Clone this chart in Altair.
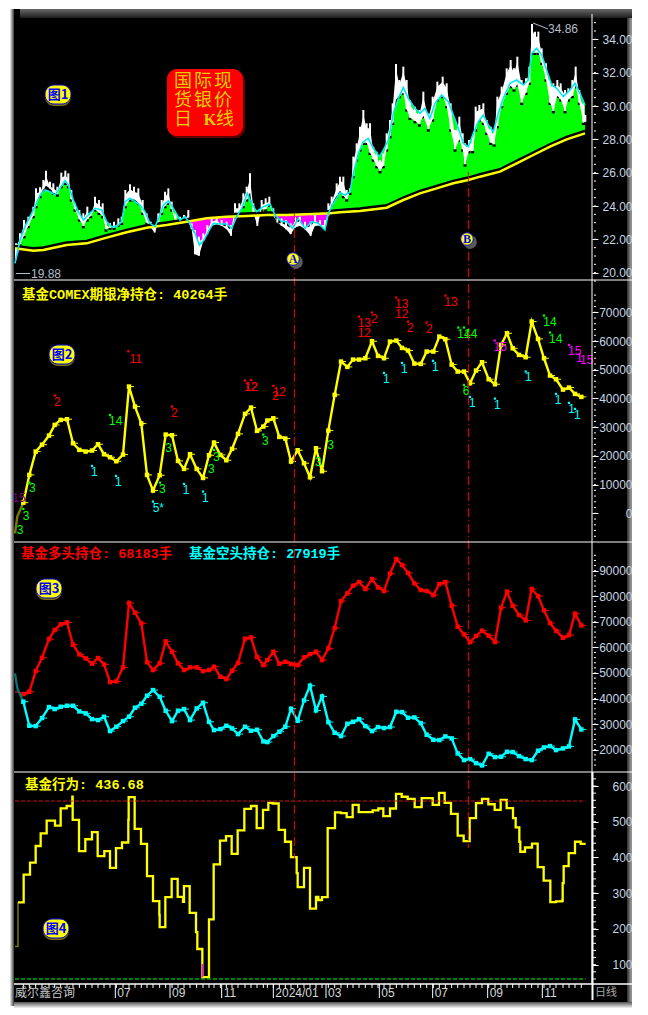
import altair as alt
import numpy as np
import pandas as pd

# x unit: one third of a screen pixel of the original terminal window
x_dom = [24, 1896]

bar_x = [48,60,72,85,100,108,120,130,138,150,160,172,184,196,205,214,225,238,250,262,272,285,297,308,318,330,342,355,365,376,390,402,415,428,440,452,464,475,485,495,505,515,527,540,552,565,575,585,597,610,622,635,650,665,680,693,705,718,730,740,750,760,772,785,797,808,820,832,845,858,872,885,900,915,932,945,960,975,985,995,1010,1020,1030,1040,1050,1060,1070,1080,1090,1100,1110,1120,1130,1140,1150,1160,1170,1178,1188,1198,1210,1220,1230,1245,1258,1270,1285,1298,1312,1328,1340,1352,1365,1378,1388,1395,1407,1418,1427,1438,1450,1460,1472,1482,1492,1505,1520,1532,1542,1552,1565,1578,1588,1596,1605,1615,1625,1638,1650,1660,1672,1682,1695,1705,1717,1727,1738,1750,1756]
bar_hi = [21.76,22.36,23.16,23.36,23.96,25.06,25.12,25.56,26.12,25.46,25.36,25.16,26.0,26.12,25.96,24.96,24.16,23.76,23.56,23.96,23.66,24.56,24.36,24.16,23.16,22.96,23.06,23.26,23.36,24.96,25.3,25.16,25.06,24.36,23.56,23.06,22.96,23.56,24.36,24.86,25.06,24.26,23.56,23.36,23.46,23.76,22.96,22.56,22.16,22.36,22.86,23.36,23.46,23.16,23.06,22.86,24.16,24.16,24.76,25.16,25.96,24.16,23.56,24.36,24.46,24.56,23.86,23.26,23.26,23.16,22.96,23.36,23.36,23.06,23.06,23.46,23.16,23.16,24.16,24.56,25.36,25.76,25.76,24.96,25.06,26.96,27.76,28.76,29.76,28.96,28.96,27.56,27.26,26.76,27.16,28.36,29.16,30.16,32.52,31.56,32.36,31.56,30.36,29.96,29.76,30.86,29.56,30.56,31.46,31.76,31.36,30.16,28.56,29.36,28.36,27.76,27.96,28.16,29.96,30.06,30.16,29.16,28.76,28.56,30.56,31.16,32.26,32.76,32.26,32.96,31.56,31.66,32.36,34.92,34.46,34.46,33.46,32.56,31.56,31.36,31.56,31.36,30.96,31.06,31.56,32.36,30.96,30.16,29.46]
bar_lo = [20.56,21.46,21.96,22.56,23.16,23.76,24.36,24.76,24.96,24.8,24.56,24.46,24.96,25.16,24.96,24.16,23.56,22.96,22.56,22.96,23.16,23.56,23.36,23.16,22.36,22.46,22.46,22.66,22.76,23.76,24.16,24.16,23.96,23.36,22.76,22.46,22.16,22.76,23.36,23.76,23.96,23.56,22.76,22.76,22.96,22.76,22.36,20.86,20.76,21.66,22.06,22.56,22.66,22.56,22.36,21.96,23.16,23.36,23.76,24.16,24.56,23.36,22.56,23.56,23.56,23.86,23.16,22.76,22.56,22.36,22.06,22.46,22.56,22.36,21.96,22.56,22.56,22.36,23.16,23.86,24.36,24.66,24.36,24.16,24.56,25.56,26.56,27.16,27.56,27.56,26.96,26.56,26.16,25.86,26.16,27.16,27.96,28.76,30.16,30.36,30.56,29.56,29.06,28.86,28.66,29.16,28.36,28.96,30.16,30.36,29.76,28.36,27.16,27.76,27.16,26.26,27.06,27.06,28.36,28.96,28.76,28.16,27.56,27.46,28.56,29.76,30.56,30.96,30.76,31.06,29.96,30.56,31.16,32.96,32.96,32.96,32.36,31.36,29.96,29.46,30.36,30.16,29.46,30.16,30.36,30.96,29.96,28.76,28.8]

ma_x = [45,60,75,90,105,120,135,150,165,180,195,205,220,235,250,265,285,305,320,335,350,365,375,390,405,420,435,450,465,478,490,505,520,540,555,570,585,598,612,625,640,660,680,695,710,725,742,755,770,790,810,825,845,860,878,895,915,935,955,975,985,1000,1020,1035,1050,1060,1075,1090,1105,1120,1138,1150,1165,1180,1195,1210,1225,1245,1260,1275,1290,1305,1325,1345,1360,1375,1390,1405,1420,1435,1450,1465,1480,1495,1510,1530,1550,1570,1585,1595,1610,1625,1640,1655,1670,1690,1710,1725,1740,1755]
ma_v = [20.56,21.96,22.76,23.36,23.96,24.66,24.96,24.86,24.66,25.06,25.52,25.26,24.36,23.66,23.16,23.46,23.86,23.76,23.06,22.76,22.76,23.06,24.26,24.46,24.26,24.06,23.66,22.96,22.76,23.36,24.06,24.3,23.86,23.16,23.36,22.96,22.36,21.66,21.96,22.46,22.96,22.92,22.92,22.66,23.36,23.86,24.76,24.16,23.66,23.96,24.12,23.46,23.06,23.06,22.66,23.26,22.66,23.06,22.96,22.56,23.56,24.16,24.8,24.66,24.86,25.96,27.16,27.86,28.06,27.46,26.96,27.36,27.96,29.56,30.46,31.12,30.46,29.86,29.56,29.86,29.26,30.16,30.66,30.26,29.46,28.66,27.76,27.56,28.36,29.06,29.46,28.86,28.46,29.56,30.46,31.36,31.56,31.26,31.56,33.16,33.46,33.06,32.16,31.26,31.06,30.56,30.96,31.36,30.76,30.06]

long_x = [45,100,130,200,260,320,380,440,500,560,620,680,740,800,860,940,990,1020,1080,1160,1210,1260,1310,1360,1405,1440,1500,1550,1600,1650,1700,1755]
long_v = [21.46,21.32,21.36,21.66,21.76,22.1,22.42,22.7,22.86,23.06,23.26,23.36,23.4,23.46,23.46,23.52,23.56,23.62,23.7,23.9,24.36,24.76,25.06,25.36,25.56,25.76,26.06,26.56,27.06,27.56,28.0,28.36]

wk_x = [70,88,107,126,147,164,182,201,219,238,257,276,294,312,330,349,369,387,405,424,441,459,479,497,516,534,552,570,590,609,627,642,661,679,696,714,735,753,771,790,802,820,838,856,873,893,912,930,948,966,985,1004,1023,1042,1059,1077,1096,1116,1134,1152,1170,1189,1206,1224,1243,1262,1280,1300,1318,1336,1355,1373,1392,1410,1428,1446,1466,1485,1503,1521,1538,1557,1577,1595,1614,1632,1650,1668,1689,1707,1725,1744]
net_v = [3700,13370,21500,23900,27070,30790,32530,32760,24400,22080,21500,21850,24050,20570,19530,18130,20450,44140,37170,31250,13370,7920,13250,27420,27190,18250,15460,20570,15460,12330,20220,24630,20340,18480,22430,27650,34620,36820,28700,30200,32300,33100,26600,26030,18020,21960,17440,12560,22660,14650,28810,41240,52840,50990,53540,53540,54000,59930,54820,54000,59810,60160,57600,56680,52150,52030,56330,56330,61550,60620,51800,49360,49360,45300,49710,52610,46690,44950,58650,62710,57490,55170,54360,66780,60740,54000,47970,46690,43090,43790,41590,40540]
long_pos = [41750,42670,50750,55970,63270,66790,69010,69790,61050,57270,55710,53620,55840,53360,46450,46710,52190,77350,73570,69400,54270,51140,53750,62360,58320,53750,51140,52190,52190,50750,51140,52450,48540,47620,50880,53880,63400,63920,56230,53100,55060,58320,53620,54400,53490,53100,56100,57400,58320,55060,59620,67580,78140,81140,84130,85570,82830,86740,83480,82050,88830,94570,92220,89090,85050,82440,82050,80480,84790,85570,76310,68100,65100,62100,64440,66530,64580,62100,75530,81790,76310,72660,70570,82830,80090,74490,69530,66530,63790,64840,73180,68620]
short_pos = [38760,29370,29240,32370,36670,35890,36800,37190,37190,34970,34190,31970,31580,32890,27280,28980,31190,32890,36410,37970,41100,43320,40710,35240,31190,35240,35890,31580,36150,38360,30930,27670,28060,29370,28320,26110,28980,27410,27800,23240,22980,25330,27020,28980,36020,31320,39280,45020,35370,40840,30800,26630,25330,30150,30930,31970,29240,27280,28850,28460,28850,34840,34710,32500,32630,30410,25850,23890,23760,25200,24410,18540,15940,16330,14760,13850,18410,17110,17240,19200,19070,17500,16330,15940,19590,20890,21410,19850,20500,21280,31840,27930]

net_lead_x, net_lead_v = [45, 52, 70], [-7000, -1140, 3700]
short_lead_x, short_lead_v = [45, 52, 70], [49840, 43970, 38760]
long_lead_x, long_lead_v = [45, 52, 70], [42670, 42600, 41750]

beh_x = [54,71,90,107,122,140,165,182,200,217,218,237,256,276,293,313,330,348,366,385,386,404,423,441,459,478,479,496,515,533,549,552,569,588,592,607,627,641,660,678,695,713,733,753,770,789,805,818,836,855,873,890,893,912,930,948,955,966,983,1005,1022,1040,1058,1076,1118,1135,1150,1170,1188,1205,1223,1244,1265,1298,1317,1334,1353,1373,1391,1409,1428,1446,1465,1484,1502,1520,1539,1547,1558,1561,1575,1596,1613,1631,1651,1668,1686,1688,1691,1706,1725,1742,1757]
beh_v = [274.6,352,385.5,432.2,467.6,503,489,537.5,544,570,505,418,451,471,404,418,371,426,442,505,569,480,438,348,278,239,205,289,340,290,276,320,245,191,144,65,227,381,447,460,410,476,536,544,482,533,553,551,477,444,401,356,317,371,257,290,281,289,482,526,524,513,547,527,532,537,516,537,578,570,564,541,566,547,581,553,522,461,446,510,552,564,549,533,561,538,510,484,444,416,428,439,373,335,275,277,279,328,376,412,444,438,438]
beh_lead_x, beh_lead_v = [45, 54, 54], [150.6, 150.6, 274.6]

# signal labels of panel 2: text, colour, x, y value, marker x, marker y value
sig = [
 ("15","#800080",57,5245,None,None),("3","#00ff00",97,8730,88,10700),("3","#00ff00",78,-910,70,1500),("3","#00ff00",60,-5780,None,None),
 ("2","#ff0000",172,38910,165,41000),("14","#00ff00",347,32060,330,34270),("1","#00ffff",283,14530,276,16500),("1","#00ffff",355,11050,348,13020),
 ("11","#ff0000",407,53660,385,56440),("2","#ff0000",523,34850,516,37170),("3","#00ff00",506,22660,None,None),("3","#00ff00",487,8500,480,10700),
 ("5*","#00ffff",475,1880,459,4080),("1","#00ffff",558,8150,552,10240),("1","#00ffff",616,5360,609,7570),("3","#00ff00",634,15340,None,None),
 ("3","#00ff00",650,19760,642,22080),("12","#ff0000",752,44140,735,46230),("12","#ff0000",754,44140,753,46460),("3","#00ff00",796,25330,790,27420),
 ("2","#ff0000",826,41000,820,44370),("12","#ff0000",838,42280,None,None),("3","#00ff00",955,18020,None,None),("3","#00ff00",992,23820,None,None),
 ("13","#ff0000",1093,66430,1077,68520),("12","#ff0000",1093,62950,None,None),("2","#ff0000",1123,67710,1116,69910),("1","#00ffff",1159,46810,1152,48900),
 ("13","#ff0000",1205,72930,1189,75140),("12","#ff0000",1205,69450,None,None),("2","#ff0000",1231,64690,1224,66780),("1","#00ffff",1213,50290,1206,52380),
 ("1","#00ffff",1306,50990,1299,53100),("2","#ff0000",1288,64110,1280,66430),("13","#ff0000",1353,73740,1336,75830),("14","#00ff00",1392,62480,1375,64690),
 ("14","#00ff00",1412,62480,1392,64690),("6","#00ff00",1398,42510,1392,44720),("1","#00ffff",1417,38450,1410,40540),("1","#00ffff",1492,37750,1485,39960),
 ("15","#ff00ff",1501,58070,1484,60160),("1","#00ffff",1585,47390,1577,49360),("14","#00ff00",1650,66660,1632,68870),("14","#00ff00",1667,60740,1650,62950),
 ("15","#ff00ff",1724,56680,1707,58650),("1","#ff00ff",1738,54000,None,None),("15","#ff00ff",1760,53430,None,None),("1","#00ffff",1674,39490,1668,41590),
 ("1","#00ffff",1715,36360,1707,38450),("1","#00ffff",1732,34270,1725,36360),
]

month_x = [346,510,665,820,978,1138,1298,1463,1627]
month_t = ["07","09","11","2024/01","03","05","07","09","11"]
event_x = [883, 1405]

xs = alt.Scale(domain=x_dom, range=[0, 624])
s1 = alt.Scale(domain=[19.56, 35.28], range=[272, 10])
s2 = alt.Scale(domain=[-9996, 80910], range=[534, 273])
s3 = alt.Scale(domain=[11279, 100833], range=[764, 535])
s4 = alt.Scale(domain=[46, 636.4], range=[976, 765])
X = alt.X("x:Q", scale=xs, axis=None)

L = []

def gradient(stops, horizontal=True):
    return alt.Gradient(gradient="linear", stops=[alt.GradientStop(offset=o, color=c) for o, c in stops],
                        x1=0, y1=0, x2=1 if horizontal else 0, y2=0 if horizontal else 1)

one = pd.DataFrame({"t": ["a"]})

def box(x0, x1, y0, y1, fill, **kw):
    L.append(alt.Chart(one).mark_rect(color=fill, **kw).encode(
        x=alt.value(x0 - 8), x2=alt.value(x1 - 8), y=alt.value(y0 - 8), y2=alt.value(y1 - 8)))

def note(text, x, y, color, size=12, weight="normal", font="Liberation Sans", align="left"):
    L.append(alt.Chart(pd.DataFrame({"t": [text]})).mark_text(
        color=color, fontSize=size, fontWeight=weight, font=font, align=align, baseline="middle"
    ).encode(x=alt.value(x - 8), y=alt.value(y - 8), text="t:N"))

def hline(x0, x1, y, color="#ffffff", w=1):
    L.append(alt.Chart(one).mark_rule(color=color, strokeWidth=w).encode(
        x=alt.value(x0 - 8), x2=alt.value(x1 - 8), y=alt.value(y - 8)))

def vline(x, y0, y1, color="#ffffff", w=1):
    L.append(alt.Chart(one).mark_rule(color=color, strokeWidth=w).encode(
        x=alt.value(x - 8), y=alt.value(y0 - 8), y2=alt.value(y1 - 8)))

# window frame
box(10, 14, 9, 1006, gradient([(0, "#f0f0f0"), (1, "#3a3a3a")]))
box(14, 636, 1002, 1008, gradient([(0, "#555555"), (1, "#f4f4f4")], horizontal=False))
box(20, 636, 9, 18, gradient([(0, "#6a6a6a"), (1, "#1c1c1c")], horizontal=False))
box(14, 627, 18, 1002, "#000000")
box(14, 20, 9, 18, "#000000")
box(627, 636, 18, 1002, gradient([(0, "#2a2a2a"), (0.4, "#8a8a8a"), (1, "#b8b8b8")]))

# panel 1: fills
yy = np.interp(ma_x, long_x, long_v)
fill = pd.DataFrame({"x": ma_x, "top": np.maximum(ma_v, yy), "bot": np.minimum(ma_v, yy), "lng": yy})
L.append(alt.Chart(fill).mark_area(color="#00ff00", interpolate="linear").encode(
    x=X, y=alt.Y("top:Q", scale=s1, axis=None), y2="lng:Q"))
L.append(alt.Chart(fill).mark_area(color="#ff00ff", interpolate="linear").encode(
    x=X, y=alt.Y("bot:Q", scale=s1, axis=None), y2="lng:Q"))

bars = pd.DataFrame({"x": bar_x, "hi": bar_hi, "lo": bar_lo})
bars["edge"] = bars.lo + 0.25          # white stops above the dark shadow read with the low
bars["shade"] = bars.lo + 0.1
bars["core_hi"] = bars.hi - 0.3
L.append(alt.Chart(bars).mark_rule(color="#000000", strokeWidth=3).encode(
    x=X, y=alt.Y("edge:Q", scale=s1, axis=None), y2="shade:Q"))
L.append(alt.Chart(bars).mark_area(color="#ffffff", opacity=1).encode(
    x=X, y=alt.Y("core_hi:Q", scale=s1, axis=None), y2="edge:Q"))
L.append(alt.Chart(bars).mark_rule(color="#ffffff", strokeWidth=2).encode(
    x=X, y=alt.Y("hi:Q", scale=s1, axis=None), y2="edge:Q"))

lg = pd.DataFrame({"x": long_x, "v": long_v})
lg["up"] = lg.v + 0.13
L.append(alt.Chart(lg).mark_line(color="#000000", strokeWidth=3).encode(
    x=X, y=alt.Y("up:Q", scale=s1, axis=None)))
L.append(alt.Chart(lg).mark_line(color="#ffff00", strokeWidth=2.5).encode(
    x=X, y=alt.Y("v:Q", scale=s1, axis=None)))
L.append(alt.Chart(pd.DataFrame({"x": ma_x, "v": ma_v})).mark_line(color="#00e8f0", strokeWidth=1.6).encode(
    x=X, y=alt.Y("v:Q", scale=s1, axis=None)))

def weekly(xv, vals, lead_x, lead_v, color, dim, scale):
    d = pd.DataFrame({"x": xv, "v": vals})
    d["xe"] = d.x + 15
    L.append(alt.Chart(pd.DataFrame({"x": lead_x, "v": lead_v})).mark_line(color=dim, strokeWidth=2.4).encode(
        x=X, y=alt.Y("v:Q", scale=scale, axis=None)))
    L.append(alt.Chart(d).mark_rule(color=color, strokeWidth=1).encode(
        x=X, x2="xe:Q", y=alt.Y("v:Q", scale=scale, axis=None)))
    L.append(alt.Chart(d).mark_line(color=color, strokeWidth=2.4).encode(
        x=X, y=alt.Y("v:Q", scale=scale, axis=None)))
    L.append(alt.Chart(d).mark_square(color=color, size=20, opacity=1).encode(
        x=X, y=alt.Y("v:Q", scale=scale, axis=None)))

weekly(wk_x, net_v, net_lead_x, net_lead_v, "#ffff00", "#7a7a00", s2)
weekly(wk_x, long_pos, long_lead_x, long_lead_v, "#ff0000", "#901010", s3)
weekly(wk_x, short_pos, short_lead_x, short_lead_v, "#00ffff", "#0a7070", s3)

# panel 2 signals
sd = pd.DataFrame(sig, columns=["t", "c", "x", "v", "mx", "mv"])
for color, g in sd.groupby("c"):
    L.append(alt.Chart(g[["t", "x", "v"]]).mark_text(color=color, fontSize=12, font="Liberation Sans").encode(
        x=X, y=alt.Y("v:Q", scale=s2, axis=None), text="t:N"))
    m = g.dropna(subset=["mx"])[["mx", "mv"]].rename(columns={"mx": "x", "mv": "v"})
    L.append(alt.Chart(m).mark_square(color=color, size=5, opacity=1).encode(
        x=X, y=alt.Y("v:Q", scale=s2, axis=None)))

# panel 4
L.append(alt.Chart(pd.DataFrame({"x": beh_lead_x, "v": beh_lead_v})).mark_line(color="#7a7a00", strokeWidth=1.5).encode(
    x=X, y=alt.Y("v:Q", scale=s4, axis=None)))
L.append(alt.Chart(pd.DataFrame({"x": beh_x, "v": beh_v})).mark_line(color="#ffff00", strokeWidth=2.3, interpolate="step-after").encode(
    x=X, y=alt.Y("v:Q", scale=s4, axis=None)))
L.append(alt.Chart(pd.DataFrame({"x": [607], "a": [102], "b": [65]})).mark_rule(color="#ff00ff", strokeWidth=1.5).encode(
    x=X, y=alt.Y("a:Q", scale=s4, axis=None), y2="b:Q"))
lvl = pd.DataFrame({"x": [45], "xe": [1757], "v": [558], "g": [60]})
L.append(alt.Chart(lvl).mark_rule(color="#d01414", strokeWidth=1, strokeDash=[4, 2]).encode(
    x=X, x2="xe:Q", y=alt.Y("v:Q", scale=s4, axis=None)))
L.append(alt.Chart(lvl).mark_rule(color="#00ff00", strokeWidth=1.2, strokeDash=[4, 2]).encode(
    x=X, x2="xe:Q", y=alt.Y("g:Q", scale=s4, axis=None)))

# event lines
ev = pd.DataFrame({"x": event_x})
L.append(alt.Chart(ev.iloc[[0]]).mark_rule(color="#ff0000", strokeWidth=1, strokeDash=[9, 3, 1, 3]).encode(
    x=X, y=alt.value(205), y2=alt.value(850)))
L.append(alt.Chart(ev.iloc[[1]]).mark_rule(color="#ff0000", strokeWidth=1, strokeDash=[9, 3, 1, 3]).encode(
    x=X, y=alt.value(164), y2=alt.value(840)))

# separators and axis line
for yp in (280, 542, 772):
    hline(14, 632, yp)
hline(14, 632, 984, w=1.5)
vline(592, 14, 984)
vline(592.5, 772, 1000, w=2)

# bottom axis
tk = pd.DataFrame({"x": wk_x})
L.append(alt.Chart(tk).mark_rule(color="#ffffff").encode(x=X, y=alt.value(976), y2=alt.value(980)))
mt = pd.DataFrame({"x": month_x, "t": month_t})
L.append(alt.Chart(mt).mark_rule(color="#ffffff").encode(x=X, y=alt.value(976), y2=alt.value(990)))
L.append(alt.Chart(mt).mark_text(color="#d8d8d8", fontSize=12, font="Liberation Sans", align="left", dx=2).encode(
    x=X, y=alt.value(985), text="t:N"))
note("威尔鑫咨询", 15, 993, "#c8c8c8", size=12, font="Noto Sans CJK SC")
note("日线", 595, 993, "#a8a8a8", size=11, font="Noto Sans CJK SC")

# right axes
def axis_layer(vals, scale, fmt):
    ax = alt.Axis(values=vals, orient="right", offset=-40, format=fmt, title=None, grid=False, domain=False,
                  tickSize=6, tickColor="#ffffff", tickWidth=1, labelAlign="right", labelPadding=34,
                  labelColor="#c8d6e4", labelFontSize=12, labelFont="Liberation Sans", labelOverlap=False,
                  labelBaseline="middle", zindex=1)
    L.append(alt.Chart(pd.DataFrame({"v": vals})).mark_point(opacity=0).encode(
        x=alt.value(0), y=alt.Y("v:Q", scale=scale, axis=ax)))

axis_layer([20, 22, 24, 26, 28, 30, 32, 34], s1, ".2f")
axis_layer(list(range(0, 70001, 10000)), s2, "d")
axis_layer(list(range(20000, 90001, 10000)), s3, "d")
axis_layer([100, 200, 300, 400, 500, 600], s4, "d")

def minor(vals, scale, x0, x1):
    L.append(alt.Chart(pd.DataFrame({"v": vals})).mark_rule(color="#ffffff", strokeWidth=1).encode(
        x=alt.value(x0 - 8), x2=alt.value(x1 - 8), y=alt.Y("v:Q", scale=scale, axis=None)))

minor(np.arange(19.5, 35.01, 0.5).tolist(), s1, 594, 596)
minor(np.arange(-8000, 76001, 2000).tolist(), s2, 594, 596)
minor(np.arange(14000, 96001, 2000).tolist(), s3, 594, 596)
minor(np.arange(60, 621, 20).tolist(), s4, 593, 596)

# min / max annotations
note("19.88", 31, 273.5, "#b4bec8", size=12)
hline(16, 30, 273.5, color="#b4bec8")
note("34.86", 548, 29, "#b4bec8", size=12)
L.append(alt.Chart(one).mark_rule(color="#b4bec8").encode(
    x=alt.value(533 - 8), x2=alt.value(548 - 8), y=alt.value(23 - 8), y2=alt.value(29 - 8)))

# captions
TITLE_FONT = "Liberation Mono, Noto Sans CJK SC"
note("基金COMEX期银净持仓: 40264手", 22, 295, "#ffff00", size=13.5, weight="bold", font=TITLE_FONT)
note("基金多头持仓: 68183手", 21, 554, "#ff0000", size=13.5, weight="bold", font=TITLE_FONT)
note("基金空头持仓: 27919手", 189, 554, "#00ffff", size=13.5, weight="bold", font=TITLE_FONT)
note("基金行为: 436.68", 25, 785, "#ffff00", size=13.5, weight="bold", font=TITLE_FONT)

# red button
box(168, 245, 71, 138, "#600000", cornerRadius=10)
box(167, 243, 69, 136, "#ff0000", cornerRadius=10)
for row, y in (("国际现", 82), ("货银价", 101)):
    for ch, x in zip(row, (183, 203, 223)):
        note(ch, x, y, "#e6cf00", size=18, font="Noto Sans CJK SC", align="center")
note("日", 183, 120, "#e6cf00", size=18, font="Noto Sans CJK SC", align="center")
note("K", 210, 120, "#e6cf00", size=16, weight="bold", font="Liberation Serif", align="center")
note("线", 225, 120, "#e6cf00", size=18, font="Noto Sans CJK SC", align="center")

# badges
def badge(text, x, y):
    box(x - 13, x + 13, y - 9, y + 11, "#807000", cornerRadius=9)
    box(x - 13, x + 13, y - 10, y + 9, "#ffff00", cornerRadius=9, stroke="#0000e0", strokeWidth=1)
    note(text, x, y, "#0000ff", size=13, weight="bold", font="Noto Sans CJK SC", align="center")

badge("图1", 58, 95)
badge("图2", 62, 355)
badge("图3", 49, 589)
badge("图4", 56, 929)

def ball(text, x, y):
    L.append(alt.Chart(one).mark_circle(color="#5a5a5a", size=190, opacity=1).encode(x=alt.value(x + 3 - 8), y=alt.value(y + 3 - 8)))
    L.append(alt.Chart(one).mark_circle(color="#ffff00", size=160, opacity=1, stroke="#0000e0", strokeWidth=1).encode(x=alt.value(x - 8), y=alt.value(y - 8)))
    note(text, x, y, "#0000ff", size=12, weight="bold", font="Liberation Serif", align="center")

ball("A", 293, 259)
ball("B", 467, 239)

chart = alt.layer(*L).resolve_scale(y="independent").properties(
    width=624, height=1000, padding=0, background="#ffffff",
    autosize=alt.AutoSizeParams(type="none"),
).configure_view(stroke=None)

chart.save("out.html", embed_options={"renderer": "svg", "actions": False})
